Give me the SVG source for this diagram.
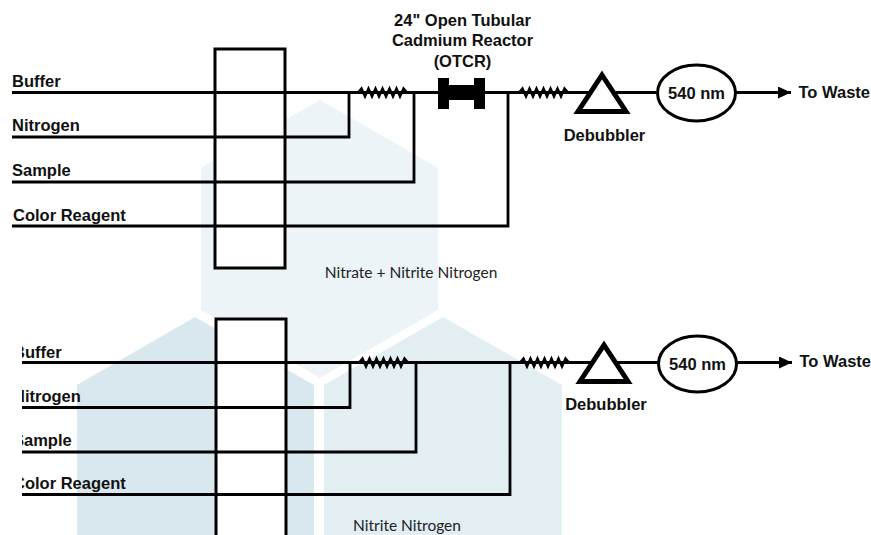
<svg xmlns="http://www.w3.org/2000/svg" width="871" height="535" viewBox="0 0 871 535">
<style>
.l{fill:none;stroke:#000;stroke-width:2.800}
.t{font-family:"Liberation Sans",Arial,sans-serif;font-weight:700;font-size:16.500px;fill:#111}
.m{font-family:"Lato","Open Sans",sans-serif;font-size:15.500px;fill:#222}
.b{fill:#fff;stroke:#000;stroke-width:3}
.v{fill:#fff;stroke:#000;stroke-width:3}
.d{fill:#fff;stroke:#000;stroke-width:5}
</style>
<defs>
<clipPath id="lowclip"><rect x="22" y="320" width="300" height="215"/></clipPath>
<marker id="ah" markerUnits="userSpaceOnUse" markerWidth="14" markerHeight="12" refX="13" refY="6" orient="auto"><path d="M0 0L13 6L0 12Z" fill="#000"/></marker>
<path id="coil" d="M0 0L3.500 -4L7 4L10.500 -4L14 4L17.500 -4L21 4L24.500 -4L28 4L31.500 -4L35 4L38.500 -4L42 4L45.500 -4L49 0" fill="none" stroke="#000" stroke-width="2.400"/>
</defs>
<rect width="871" height="535" fill="#fff"/>
<g id="background">
<path d="M320 100L438 168L438 310L320 378L201 310L201 168Z" fill="#edf4f7"/>
<path d="M195 317L314 385L314 535L77 535L77 385Z" fill="#d9e8ef"/>
<path d="M443 317L562 385L562 535L324 535L324 385Z" fill="#e3eef3"/>
</g>
<g id="valve-top"><rect class="v" x="215" y="49" width="70" height="219"/></g>
<g id="valve-bottom"><rect class="v" x="216" y="319" width="70" height="222"/></g>
<g id="connectors">
<path class="l" d="M12 92.500H656M12 137H349V92.500M12 182H414V92.500M12 226H508V92.500"/>
<path class="l" d="M736 92.500H791" marker-end="url(#ah)"/>
<path class="l" d="M22 362.500H658M22 407.500H350V362.500M22 452H416V362.500M22 494.500H510V362.500"/>
<path class="l" d="M737 362.500H792" marker-end="url(#ah)"/>
</g>
<g id="labels-top">
<text class="t" x="12" y="87">Buffer</text>
<text class="t" x="12" y="131">Nitrogen</text>
<text class="t" x="12" y="176">Sample</text>
<text class="t" x="13" y="221">Color Reagent</text>
</g>
<g id="labels-bottom" clip-path="url(#lowclip)">
<text class="t" x="13" y="358">Buffer</text>
<text class="t" x="13" y="402">Nitrogen</text>
<text class="t" x="13" y="445.500">Sample</text>
<text class="t" x="13" y="488.500">Color Reagent</text>
</g>
<g id="coils">
<use href="#coil" x="358" y="92.500"/><use href="#coil" x="519" y="92.500"/>
<use href="#coil" x="359" y="362.500"/><use href="#coil" x="520" y="362.500"/>
</g>
<g id="reactor">
<path d="M438 78H449V85H474V78H485V109H474V100H449V109H438Z" fill="#000"/>
<text class="t" x="462.500" y="26" text-anchor="middle">24" Open Tubular</text>
<text class="t" x="462.500" y="46" text-anchor="middle">Cadmium Reactor</text>
<text class="t" x="462.500" y="66.500" text-anchor="middle">(OTCR)</text>
</g>
<g id="debubbler-top">
<path class="d" d="M602 75L626 111.500H578Z"/>
<text class="t" x="604.500" y="141" text-anchor="middle">Debubbler</text>
</g>
<g id="debubbler-bottom">
<path class="d" d="M604 345L628 381.500H580Z"/>
<text class="t" x="606" y="409.500" text-anchor="middle">Debubbler</text>
</g>
<g id="detector-top">
<ellipse class="b" cx="696.500" cy="93" rx="39" ry="28"/>
<text class="t" x="696.500" y="99" text-anchor="middle">540 nm</text>
</g>
<g id="detector-bottom">
<ellipse class="b" cx="697.500" cy="364" rx="39" ry="28"/>
<text class="t" x="697.500" y="370" text-anchor="middle">540 nm</text>
</g>
<g id="waste">
<text class="t" x="798.500" y="98">To Waste</text>
<text class="t" x="799.500" y="367">To Waste</text>
</g>
<g id="captions">
<text class="m" x="411" y="278" text-anchor="middle">Nitrate + Nitrite Nitrogen</text>
<text class="m" x="407" y="531" text-anchor="middle">Nitrite Nitrogen</text>
</g>
</svg>
